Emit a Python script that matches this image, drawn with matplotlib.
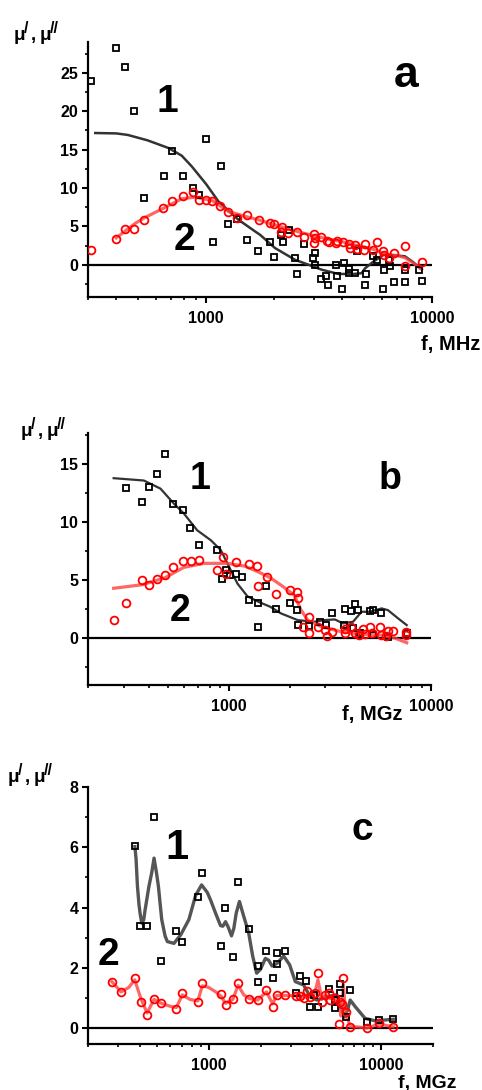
import numpy as np
import matplotlib
matplotlib.use("Agg")
import matplotlib.pyplot as plt
from matplotlib.ticker import FixedLocator, NullFormatter, MultipleLocator, LogLocator

plt.rcParams['font.family'] = ['Liberation Sans', 'DejaVu Sans']
plt.rcParams['font.weight'] = 'bold'

# ---- panel a ----
a_sq_f = [309, 401, 438, 480, 532, 650, 707, 789, 879, 931, 1000, 1070, 1161, 1247, 1367, 1524, 1703, 1914,
          2006, 2147, 2192, 2323, 2484, 2527, 2724, 2974, 3034, 3034, 3214, 3394, 3452, 3750, 3802, 4010, 4093,
          4279, 4300, 4580, 4650, 5035, 5120, 5484, 5700, 6070, 6100, 6458, 6550, 6810, 7570, 7590, 8730, 9030]
a_sq_mu = [23.9, 28.2, 25.8, 20.05, 8.7, 11.5, 14.8, 11.6, 10.0, 9.07, 16.4, 2.9, 12.8, 5.25, 5.95, 3.2, 1.73, 2.9,
           0.95, 3.9, 2.95, 4.47, 0.82, -1.2, 2.73, 0.9, 1.47, 0.0, -1.8, -1.5, -2.6, 0.0, -1.43, -3.1, 0.26,
           -0.5, -1.1, -1.1, 1.8, -2.7, -1.25, 1.2, 0.65, -3.1, -0.65, 0.65, -0.1, -2.2, -2.2, -0.74, -0.65, -2.1]
a_ci_f = [309, 400, 438, 480, 532, 647, 707, 789, 879, 931, 1000, 1066, 1153, 1247, 1367, 1524, 1710, 1909, 1998,
          2146, 2168, 2311, 2535, 2724, 3010, 3010, 3040, 3214, 3420, 3510, 3740, 3810, 4020, 4300, 4330, 4580,
          4650, 4990, 5035, 5464, 5710, 6070, 6130, 6470, 6820, 7570, 7570, 9030]
a_ci_mu = [1.86, 3.35, 4.7, 4.65, 5.8, 7.33, 8.33, 8.9, 9.42, 8.46, 8.46, 8.3, 7.7, 6.9, 6.07, 6.46, 5.8, 5.38, 5.3,
           4.25, 4.86, 4.1, 4.2, 3.56, 4.04, 2.86, 3.47, 3.56, 3.03, 2.95, 2.82, 3.08, 2.9, 2.73, 2.12, 2.55,
           2.04, 1.9, 2.7, 1.95, 2.9, 1.78, 1.21, 0.82, 1.47, 2.38, -0.17, 0.35]
a_fit1_f = [323, 400, 450, 550, 681, 780, 864, 1000, 1134, 1390, 1647, 1733, 2019, 2475, 2900, 3253, 3846, 4500,
            4880, 5060, 5500, 6090, 7000, 7590, 8200, 8850]
a_fit1_mu = [17.15, 17.1, 16.9, 16.2, 15.2, 14.2, 12.8, 10.5, 8.24, 5.86, 4.34, 3.9, 2.17, 0.65, -0.1, -0.65, -1.2,
             -1.2, -1.1, -0.45, 0.4, 1.3, 1.2, 1.1, 0.4, -0.43]
a_fit2_f = [400, 486, 537, 650, 781, 894, 1060, 1255, 1488, 1703, 2000, 2300, 2700, 3000, 3500, 4000, 4500, 5000,
            5500, 6000, 6500, 7000, 7600, 8300, 9000]
a_fit2_mu = [3.5, 5.4, 6.16, 7.38, 8.6, 8.8, 8.38, 6.94, 6.3, 5.86, 5.2, 4.7, 4.1, 3.8, 3.3, 3.0, 2.6, 2.3, 2.0, 1.6,
             1.3, 1.2, 0.9, 0.2, -0.6]

# ---- panel b ----
b_sq_f = [308, 372, 401, 440, 480, 528, 590, 642, 711, 874, 923, 970, 1011, 1080, 1152, 1248, 1389, 1383, 1528,
          1701, 2010, 2162, 2186, 2500, 2804, 3028, 3230, 3700, 3733, 4038, 4110, 4190, 4345, 4440, 4970, 5160,
          5160, 5640, 6120, 7580]
b_sq_mu = [12.93, 11.78, 13.05, 14.14, 15.92, 11.58, 11.09, 9.51, 8.05, 7.59, 5.14, 5.86, 5.43, 5.52, 5.29, 3.28,
           2.99, 0.95, 4.5, 2.53, 2.99, 2.41, 1.12, 1.05, 1.41, 1.12, 2.13, 1.12, 2.47, 2.35, 0.83, 2.93, 2.41,
           0.4, 2.33, 2.41, 0.26, 2.13, 0.12, 0.4]
b_ci_f = [270, 310, 372, 403, 440, 480, 528, 591, 647, 711, 874, 933, 963, 1080, 1248, 1373, 1383, 1532, 1707,
          2010, 2162, 2203, 2315, 2500, 2500, 2770, 2969, 3060, 3230, 3733, 3760, 4000, 4190, 4383, 4600, 4690,
          4970, 5110, 5570, 5640, 6010, 6120, 6470, 7520, 7520]
b_ci_mu = [1.55, 2.99, 5.0, 4.6, 5.11, 5.46, 6.15, 6.66, 6.66, 6.72, 5.86, 7.0, 5.57, 6.55, 6.38, 6.2, 4.5, 5.28,
           3.77, 4.14, 4.0, 3.5, 0.98, 1.84, 0.4, 0.92, 0.69, 0.17, 0.55, 0.75, 0.4, 0.92, 0.46, 0.26, 0.75, 0.34,
           0.92, 0.46, 0.92, 0.26, 0.17, 0.63, 0.63, 0.55, 0.26]
b_fit1_f = [268, 378, 457, 533, 597, 695, 811, 909, 981, 1100, 1233, 1410, 1600, 1807, 2186, 2645, 2969, 3337,
            3660, 4110, 4530, 4970, 5690, 6120, 6870, 7580]
b_fit1_mu = [13.8, 13.6, 12.9, 11.6, 10.75, 9.3, 8.45, 7.6, 6.44, 4.7, 3.6, 3.1, 2.7, 2.13, 1.55, 1.41, 1.55, 1.61,
             1.27, 1.41, 2.27, 2.27, 2.56, 2.41, 1.7, 1.12]
b_fit2_f = [268, 370, 480, 596, 751, 980, 1200, 1400, 1600, 1807, 2103, 2273, 2452, 2860, 3590, 4530, 5690, 6610,
            7580]
b_fit2_mu = [4.3, 4.6, 5.2, 6.1, 6.45, 6.45, 6.2, 5.7, 5.2, 4.57, 3.7, 2.41, 1.55, 0.98, 0.55, 0.34, 0.26, 0.0, -0.4]

# ---- panel c ----
c_sq_f = [373, 401, 438, 483, 532, 647, 701, 863, 915, 1173, 1243, 1382, 1486, 1718, 1926, 1926, 2155, 2352, 2480,
          2480, 2760, 3225, 3400, 3683, 3885, 4060, 4305, 4962, 5430, 5430, 5790, 5790, 6270, 6620, 8270, 9770,
          11770]
c_sq_mu = [6.05, 3.37, 3.4, 7.0, 2.24, 3.21, 2.87, 4.36, 5.16, 2.71, 3.99, 2.37, 4.86, 3.28, 2.06, 1.53, 2.55,
           1.67, 2.13, 2.5, 2.57, 1.17, 1.74, 1.57, 0.71, 1.1, 0.71, 1.29, 0.93, 0.65, 1.46, 1.15, 0.38, 1.26,
           0.21, 0.27, 0.29]
c_ci_f = [275, 311, 373, 404, 440, 483, 532, 650, 705, 867, 919, 1184, 1254, 1382, 1484, 1718, 1926, 2165, 2352,
          2480, 2760, 3225, 3400, 3555, 3720, 3885, 4130, 4305, 4540, 4740, 4960, 5060, 5430, 5740, 5790, 5970,
          6040, 6300, 6620, 8270, 9740, 11770]
c_ci_mu = [1.54, 1.19, 1.67, 0.86, 0.43, 0.97, 0.82, 0.63, 1.15, 0.86, 1.48, 1.13, 0.77, 0.95, 1.48, 0.96, 0.93,
           1.26, 0.69, 1.1, 1.1, 1.07, 1.06, 1.0, 1.23, 1.02, 1.17, 1.82, 0.87, 1.1, 1.17, 0.93, 0.99, 0.13, 0.87,
           0.8, 1.65, 0.54, 0.04, -0.01, 0.16, 0.04]
c_fit1_f = [374, 380, 387, 395, 401, 410, 421, 428, 451, 468, 483, 499, 512, 535, 560, 577, 630, 689, 769, 841,
            911, 983, 1027, 1100, 1173, 1210, 1254, 1300, 1358, 1400, 1446, 1510, 1580, 1709, 1800, 1900, 2000,
            2134, 2230, 2333, 2500, 2724, 2950, 3183, 3555, 3885, 4240, 4840, 5540, 5920, 6130, 6400, 6620, 7080,
            8080, 9230, 11770]
c_fit1_mu = [6.02, 5.6, 4.7, 4.1, 3.8, 3.48, 3.6, 3.9, 4.7, 5.15, 5.64, 5.15, 4.7, 3.6, 3.05, 2.87, 2.81, 3.09,
             3.6, 4.4, 4.75, 4.5, 4.25, 3.8, 3.4, 3.38, 3.53, 3.35, 3.06, 3.3, 3.81, 4.2, 3.81, 3.15, 2.4, 1.82,
             1.95, 2.31, 2.25, 2.06, 2.15, 2.39, 2.1, 1.54, 1.43, 1.04, 0.93, 1.04, 1.1, 0.65, 0.36, 0.6, 0.93,
             0.71, 0.32, 0.24, 0.29]
c_fit2_f = [275, 311, 345, 373, 404, 440, 483, 532, 600, 650, 705, 780, 867, 919, 1000, 1100, 1184, 1254, 1382,
            1484, 1600, 1718, 1926, 2165, 2352, 2480, 2760, 3225, 3555, 3885, 4130, 4305, 4540, 4740, 5060, 5430,
            5740, 5850, 5970, 6040, 6150, 6300, 6620, 7500, 8270, 9740, 11770]
c_fit2_mu = [1.54, 1.2, 1.35, 1.6, 1.0, 0.5, 0.95, 0.82, 0.72, 0.68, 1.1, 0.95, 0.9, 1.4, 1.35, 1.2, 1.05, 0.82,
             0.95, 1.42, 1.1, 0.98, 0.93, 1.2, 0.8, 1.08, 1.08, 1.07, 1.02, 1.05, 1.15, 1.6, 0.95, 1.1, 0.98, 0.98,
             0.85, 0.4, 0.8, 1.45, 0.9, 0.45, 0.05, 0.03, 0.0, 0.13, 0.04]

W, H = 482, 1090
fig = plt.figure(figsize=(W / 100, H / 100), dpi=100)


def box(x0, y0, x1, y1):
    # pixel box (top-left origin) -> figure fraction rect
    return [x0 / W, 1 - y1 / H, (x1 - x0) / W, (y1 - y0) / H]


def ftext(x, y, s, **kw):
    fig.text(x / W, 1 - y / H, s, **kw)


def mu_label(x, y):
    # "μ/, μ//" with raised slashes
    kw = dict(fontweight='bold', va='baseline')
    ftext(x, y, 'μ', fontsize=13.5, **kw)
    ftext(x + 10, y - 7, '/', fontsize=11.5, **kw)
    ftext(x + 17, y, ',', fontsize=13.5, **kw)
    ftext(x + 26, y, 'μ', fontsize=13.5, **kw)
    ftext(x + 36, y - 7, '//', fontsize=11.5, **kw)


def setup(ax, xlim, ylim, yticks, yminor):
    ax.set_xscale('log')
    ax.set_xlim(*xlim)
    ax.set_ylim(*ylim)
    for side in ['top', 'right']:
        ax.spines[side].set_visible(False)
    for side in ['left', 'bottom']:
        ax.spines[side].set_linewidth(1.6)
    ax.xaxis.set_major_locator(FixedLocator([1000, 10000]))
    ax.set_xticklabels(['1000', '10000'])
    ax.xaxis.set_minor_locator(LogLocator(base=10, subs=np.arange(2, 10)))
    ax.xaxis.set_minor_formatter(NullFormatter())
    ax.set_yticks(yticks)
    ax.set_yticklabels([str(t) for t in yticks])
    ax.yaxis.set_minor_locator(MultipleLocator(yminor))
    ax.tick_params(which='major', direction='out', length=4, width=1.5, labelsize=11.5, pad=3)
    ax.tick_params(axis='x', which='major', pad=6)
    ax.tick_params(which='minor', direction='out', length=2.5, width=1.2)
    ax.axhline(0, color='black', lw=1.6, zorder=1)


sq_kw = dict(ls='none', marker='s', ms=4.6, mfc='none', mec='black', mew=1.3, zorder=3)
ci_kw = dict(ls='none', marker='o', ms=5.6, mfc='none', mec='#ff0000', mew=1.3, zorder=3)
red_line = dict(color='#ff4040', lw=2.3, alpha=0.8, zorder=2, solid_joinstyle='round')

# panel a
ax1 = fig.add_axes(box(88, 42, 432, 297))
setup(ax1, (300, 10000), (-4.2, 29), [0, 5, 10, 15, 20, 25], 2.5)
ax1.plot(a_fit1_f, a_fit1_mu, color='#333333', lw=1.8, zorder=2)
ax1.plot(a_fit2_f, a_fit2_mu, **red_line)
ax1.plot(a_sq_f, a_sq_mu, **sq_kw)
ax1.plot(a_ci_f, a_ci_mu, **ci_kw)

# panel b
ax2 = fig.add_axes(box(88, 433, 431, 685))
setup(ax2, (200, 10000), (-4.05, 17.7), [0, 5, 10, 15], 2.5)
ax2.plot(b_fit1_f, b_fit1_mu, color='#333333', lw=1.6, zorder=2)
ax2.plot(b_fit2_f, b_fit2_mu, **red_line)
ax2.plot(b_sq_f, b_sq_mu, **sq_kw)
ax2.plot(b_ci_f, b_ci_mu, **ci_kw)

# panel c
ax3 = fig.add_axes(box(88, 787, 433, 1044))
setup(ax3, (200, 20000), (-0.53, 8), [0, 2, 4, 6, 8], 1)
ax3.plot(c_fit1_f, c_fit1_mu, color='#555555', lw=2.4, zorder=2, solid_joinstyle='round')
ax3.plot(c_fit2_f, c_fit2_mu, **red_line)
ax3.plot(c_sq_f, c_sq_mu, **sq_kw)
ax3.plot(c_ci_f, c_ci_mu, **ci_kw)

# texts
mu_label(14, 40)
mu_label(21, 436)
mu_label(8, 782)

ftext(480, 350, 'f, MHz', fontsize=14.5, fontweight='bold', ha='right', va='baseline')
ftext(402, 720, 'f, MGz', fontsize=14.5, fontweight='bold', ha='right', va='baseline')
ftext(456, 1088, 'f, MGz', fontsize=14, fontweight='bold', ha='right', va='baseline')

big = dict(fontweight='bold', ha='center', va='baseline')
ftext(167, 112, '1', fontsize=28, **big)
ftext(184, 250, '2', fontsize=28, **big)
ftext(406, 87, 'a', fontsize=32, **big)

ftext(200, 489, '1', fontsize=27, **big)
ftext(180, 621, '2', fontsize=27, **big)
ftext(390, 489, 'b', fontsize=27, **big)

ftext(177, 859, '1', fontsize=30, **big)
ftext(108, 965, '2', fontsize=28, **big)
ftext(362, 840, 'c', fontsize=28, **big)

fig.savefig('out.png', dpi=100)
